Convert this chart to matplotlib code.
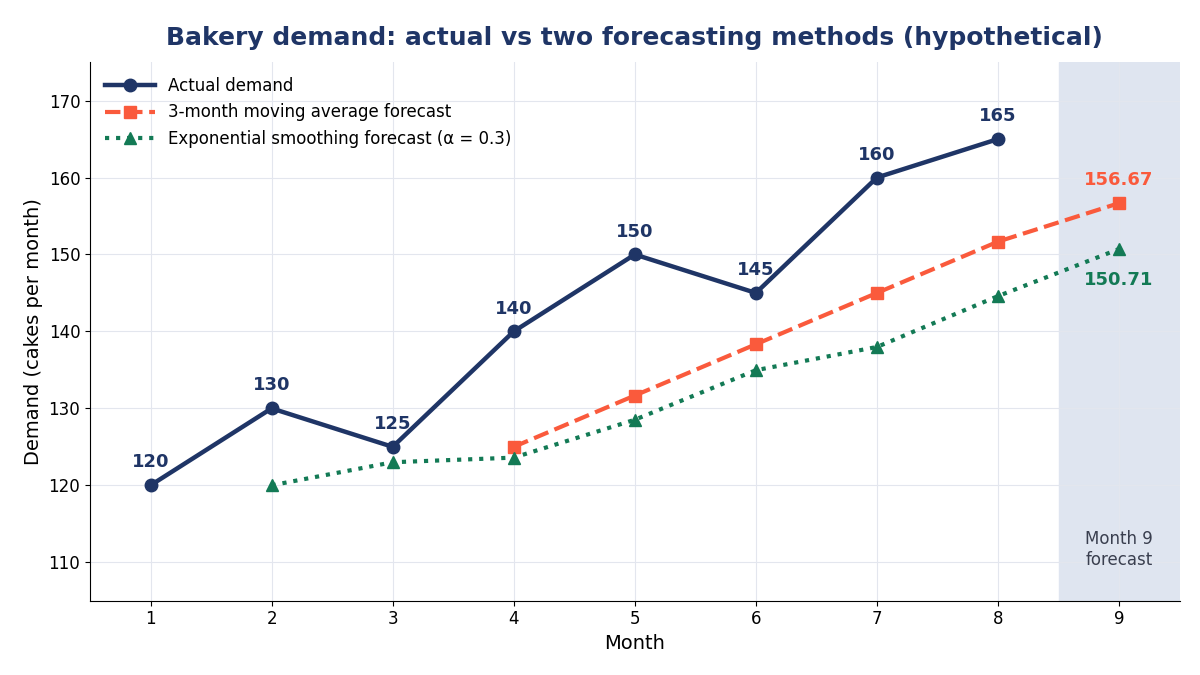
import matplotlib
matplotlib.use("Agg")
import matplotlib.pyplot as plt

months_actual = [1, 2, 3, 4, 5, 6, 7, 8]
actual = [120, 130, 125, 140, 150, 145, 160, 165]
months_ma = [4, 5, 6, 7, 8, 9]
ma = [125.0, 131.67, 138.33, 145.0, 151.67, 156.67]
months_es = [2, 3, 4, 5, 6, 7, 8, 9]
es = [120.0, 123.0, 123.6, 128.52, 134.96, 137.98, 144.59, 150.71]

navy = "#1f3566"
orange = "#fa5a3c"
green = "#137a55"

fig, ax = plt.subplots(figsize=(12, 6.75), dpi=100)
fig.subplots_adjust(left=0.075, right=0.983, top=0.908, bottom=0.11)

ax.axvspan(8.5, 9.5, color="#dfe5f0", zorder=0)
ax.text(9, 111.7, "Month 9\nforecast", ha="center", va="center", fontsize=12, color="#3a3f4f")

ax.plot(months_actual, actual, "-o", color=navy, lw=3.2, ms=9, label="Actual demand", zorder=4)
ax.plot(months_ma, ma, "--s", color=orange, lw=3, ms=8, label="3-month moving average forecast", zorder=3)
ax.plot(months_es, es, ":^", color=green, lw=3, ms=8, label="Exponential smoothing forecast (α = 0.3)", zorder=3)

for x, y in zip(months_actual, actual):
    ax.annotate(f"{y}", (x, y), xytext=(0, 10), textcoords="offset points",
                ha="center", va="bottom", fontsize=13, fontweight="bold", color=navy)
ax.annotate("156.67", (9, ma[-1]), xytext=(0, 10), textcoords="offset points",
            ha="center", va="bottom", fontsize=13, fontweight="bold", color=orange)
ax.annotate("150.71", (9, es[-1]), xytext=(0, -16), textcoords="offset points",
            ha="center", va="top", fontsize=13, fontweight="bold", color=green)

ax.set_xlim(0.5, 9.5)
ax.set_ylim(105, 175)
ax.set_xticks(range(1, 10))
ax.set_yticks(range(110, 171, 10))
ax.tick_params(labelsize=12)
ax.grid(True, color="#e3e6ee", lw=0.8)
ax.set_axisbelow(True)
for s in ["top", "right"]:
    ax.spines[s].set_visible(False)
ax.set_xlabel("Month", fontsize=14)
ax.set_ylabel("Demand (cakes per month)", fontsize=14)
ax.set_title("Bakery demand: actual vs two forecasting methods (hypothetical)",
             fontsize=18, fontweight="bold", color=navy, pad=12)
ax.legend(loc="upper left", fontsize=12, frameon=False, handlelength=3)
fig.savefig("out.png")
